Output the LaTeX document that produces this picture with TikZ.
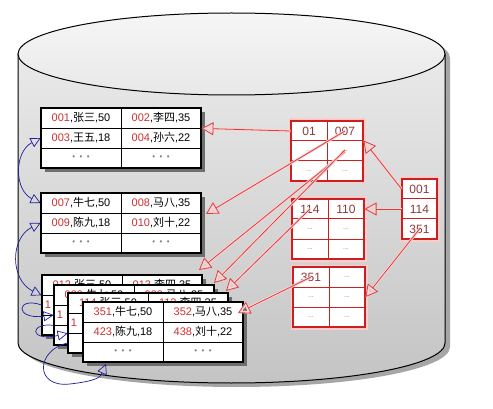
\documentclass[tikz,border=0pt]{standalone}
\usepackage{fontspec}
\setmainfont{Liberation Sans}
\newfontfamily\cjk{Noto Sans CJK SC}
\usetikzlibrary{arrows.meta}
\definecolor{keyred}{HTML}{C83232}
\definecolor{idxred}{HTML}{CC1F1F}
\definecolor{idxtext}{HTML}{8C3A3A}
\definecolor{linkblue}{HTML}{1E1E9C}
\definecolor{shadowgray}{HTML}{6E6E6E}
\definecolor{cyltop}{HTML}{EEEEEE}
\definecolor{cylbot}{HTML}{C4C4C4}
\definecolor{lidtop}{HTML}{F6F6F6}
\definecolor{lidbot}{HTML}{E8E8E8}
\newcommand\rec[3]{{\color{keyred}#1},{\cjk #2},#3}
\newcommand\dotsrow{{\color{gray}\fontsize{8}{8}\selectfont •\hspace{4.5pt}•\hspace{4.5pt}•}}
\newcommand\idots{{\color{idxtext!70}\fontsize{7}{7}\selectfont ...}}
\newcommand\DataTab[6]{%
  \begin{scope}[shift={#2}]
    \fill[shadowgray] (4,4) rectangle (164,64);
    \node[cell] (#1-11) at (40,10) {#3};
    \node[cell] (#1-12) at (120,10) {#4};
    \node[cell] (#1-21) at (40,30) {#5};
    \node[cell] (#1-22) at (120,30) {#6};
    \node[cell] (#1-31) at (40,50) {\dotsrow};
    \node[cell] (#1-32) at (120,50) {\dotsrow};
    \draw[line width=1.6pt] (0,0) rectangle (160,60);
  \end{scope}}
\newcommand\IdxTab[4]{%
  \begin{scope}[shift={#2}]
    \draw[red!20, line width=5pt] (0,0) rectangle (72,60);
    \node[icell] (#1-11) at (18,10) {#3};
    \node[icell] (#1-12) at (54,10) {#4};
    \node[icell] (#1-21) at (18,30) {\idots};
    \node[icell] (#1-22) at (54,30) {\idots};
    \node[icell] (#1-31) at (18,50) {\idots};
    \node[icell] (#1-32) at (54,50) {\idots};
    \draw[idxred, line width=2pt] (0,0) rectangle (72,60);
  \end{scope}}
\begin{document}
\begin{tikzpicture}[x=1pt,y=-1pt,
  cell/.style={draw=black, line width=0.8pt, fill=white, minimum width=80pt,
    minimum height=20pt, inner sep=0pt, font=\fontsize{11}{13}\selectfont},
  icell/.style={draw=idxred, line width=1pt, fill=white, minimum width=36pt,
    minimum height=20pt, inner sep=0pt, text=idxtext, font=\fontsize{12}{14}\selectfont},
  rcell/.style={icell, minimum width=35pt},
  ptr/.style={draw=idxred!85, line width=0.8pt,
    -{Triangle[open,length=12pt,width=13pt]},
    preaction={draw=red!18, line width=2.6pt, -{Triangle[open,length=12pt,width=13pt]}}},
  linkboth/.style={draw=linkblue, line width=0.7pt,
    {Triangle[open,length=10pt,width=10pt]}-{Triangle[open,length=10pt,width=10pt]}},
  link/.style={draw=linkblue, line width=0.7pt, -{Triangle[open,length=10pt,width=10pt]}}]
\useasboundingbox (0,0) rectangle (493,409);
\fill[white] (0,0) rectangle (493,409);
% cylinder shadow
\fill[gray!70] (23,58) -- (23,347) arc[start angle=180,end angle=0,x radius=213.5,y radius=40]
  -- (450,58) arc[start angle=0,end angle=-180,x radius=213.5,y radius=41] -- cycle;
% cylinder body
\shade[top color=cyltop, bottom color=cylbot] (18,54) -- (18,343)
  arc[start angle=180,end angle=0,x radius=213.5,y radius=40]
  -- (445,54) arc[start angle=0,end angle=-180,x radius=213.5,y radius=41] -- cycle;
\draw[line width=1pt] (18,54) -- (18,343)
  arc[start angle=180,end angle=0,x radius=213.5,y radius=40] -- (445,54);
\shade[top color=lidtop, bottom color=lidbot] (231.5,54) ellipse[x radius=213.5, y radius=41];
\draw[line width=1pt] (231.5,54) ellipse[x radius=213.5, y radius=41];
% data tables
\DataTab{t1}{(41,108)}{\rec{001}{张三}{50}}{\rec{002}{李四}{35}}{\rec{003}{王五}{18}}{\rec{004}{孙六}{22}}
\DataTab{t2}{(41,193)}{\rec{007}{牛七}{50}}{\rec{008}{马八}{35}}{\rec{009}{陈九}{18}}{\rec{010}{刘十}{22}}
\DataTab{A}{(42,275)}{\rec{012}{张三}{50}}{\rec{013}{李四}{35}}{\hspace*{-68pt}{\color{keyred}1}}{}
\DataTab{B}{(54,285)}{\rec{029}{牛七}{50}}{\rec{033}{马八}{35}}{\hspace*{-68pt}{\color{keyred}1}}{}
\DataTab{C}{(68,293)}{\rec{114}{张三}{50}}{\rec{112}{李四}{35}}{\hspace*{-68pt}{\color{keyred}1}}{}
\DataTab{D}{(83,302)}{\rec{351}{牛七}{50}}{\rec{352}{马八}{35}}{\rec{423}{陈九}{18}}{\rec{438}{刘十}{22}}
% index tables
\IdxTab{R1}{(291,121)}{01}{007}
\IdxTab{R2}{(292,199)}{114}{110}
\IdxTab{R3}{(293,267)}{351}{\idots}
\begin{scope}[shift={(402,179)}]
  \draw[red!20, line width=5pt] (0,0) rectangle (35,60);
  \node[rcell] (Root-1) at (17.5,10) {001};
  \node[rcell] (Root-2) at (17.5,30) {114};
  \node[rcell] (Root-3) at (17.5,50) {351};
  \draw[idxred, line width=2pt] (0,0) rectangle (35,60);
\end{scope}
% arrow tip coordinates
\coordinate (tipT2) at (206,214);
\coordinate (tipA) at (199,270);
\coordinate (tipB) at (214,283);
\coordinate (tipC) at (226,291);
\coordinate (tipD) at (238,313);
\coordinate (tipDb) at (106,364);
% red pointers
\draw[ptr] (R1-11.west) -- (t1-12.south east);
\draw[ptr] (R1-12.center) -- (tipT2);
\draw[ptr] ([yshift=-1pt]R1-22.center) -- (tipA);
\draw[ptr] ([yshift=1pt]R1-22.center) -- (tipB);
\draw[ptr] (R2-11.center) -- (tipC);
\draw[ptr] (R3-11.center) -- (tipD);
\draw[ptr] (Root-1.west) -- (R1-22.north east);
\draw[ptr] (Root-2.west) -- (R2-12.east);
\draw[ptr] (Root-3.center) -- (R3-22.east);
% blue links
\draw[linkboth] (t1-21.west) .. controls (14,152) and (14,190) .. (t2-11.west);
\draw[linkboth] (t2-21.west) .. controls (10,238) and (10,280) .. (A-11.south west);
\draw[link] (A-21.west) .. controls (16,296) and (14,320) .. (B-21.west);
\draw[link] (B-21.south west) .. controls (30,322) and (28,342) .. (C-21.south west);
\draw[link] (C-31.west) .. controls (36,350) and (34,388) .. (70,384)
  .. controls (95,381) and (100,378) .. (tipDb);
\end{tikzpicture}
\end{document}
